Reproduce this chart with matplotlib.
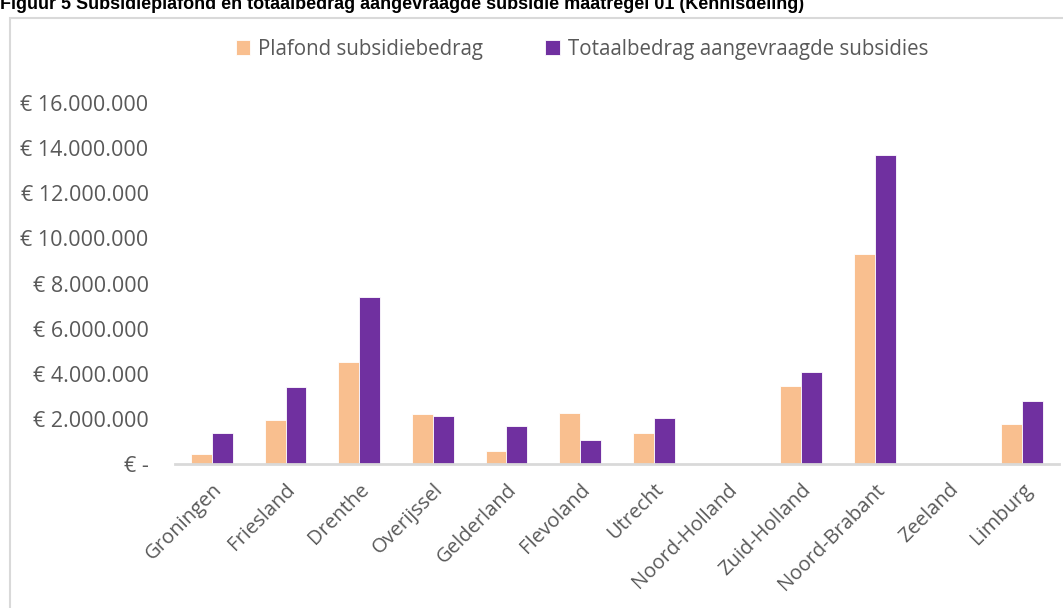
import matplotlib.pyplot as plt
import matplotlib.patches as mpatches
import numpy as np

# data (in euro)
provinces = ["Groningen", "Friesland", "Drenthe", "Overijssel", "Gelderland", "Flevoland",
             "Utrecht", "Noord-Holland", "Zuid-Holland", "Noord-Brabant", "Zeeland", "Limburg"]
plafond = [450000, 1980000, 4520000, 2220000, 570000, 2260000,
           1390000, 0, 3480000, 9320000, 0, 1780000]
totaal = [1380000, 3420000, 7430000, 2160000, 1700000, 1090000,
          2070000, 0, 4100000, 13680000, 0, 2810000]
yticks = [0, 2000000, 4000000, 6000000, 8000000, 10000000, 12000000, 14000000, 16000000]

ORANGE = "#F9BF8F"
PURPLE = "#7030A0"
GREY = "#595959"
FONT = ["Open Sans", "DejaVu Sans"]


def euro(v):
    if v == 0:
        return "€ -"
    return "€ " + f"{int(v):,}".replace(",", ".")


W, H = 1063, 608
fig = plt.figure(figsize=(W / 100, H / 100), dpi=100)

# outer chart frame
fig.patches.append(mpatches.Rectangle((10 / W, -0.05), 1.2, 1 - 18 / H + 0.05,
                                      transform=fig.transFigure, fill=False,
                                      edgecolor="#D9D9D9", linewidth=1.5))

# figure caption, cut off at the top as in the document
fig.text(0, 1 - 9 / H, "Figuur 5 Subsidieplafond en totaalbedrag aangevraagde subsidie maatregel 01 (Kennisdeling)",
         fontsize=13, fontweight="bold", family="Liberation Sans", va="baseline", ha="left")

left, right = 175 / W, 1059 / W
bottom, top = (H - 464.3) / H, (H - 103) / H
ax = fig.add_axes([left, bottom, right - left, top - bottom])

x = np.arange(len(provinces))
bw = 0.285
ax.bar(x - bw / 2, plafond, bw, color=ORANGE, edgecolor="white", linewidth=0.6, label="Plafond subsidiebedrag")
ax.bar(x + bw / 2, totaal, bw, color=PURPLE, edgecolor="white", linewidth=0.6, label="Totaalbedrag aangevraagde subsidies")

ax.set_xlim(-0.5, len(provinces) - 0.5)
ax.set_ylim(0, 16000000)
ax.set_yticks(yticks)
ax.set_yticklabels([euro(v) for v in yticks], family=FONT, fontsize=15.5, color=GREY)
ax.set_xticks(x)
ax.set_xticklabels(provinces, rotation=45, ha="right", rotation_mode="anchor",
                   family=FONT, fontsize=14.5, color=GREY)
ax.tick_params(axis="y", length=0, pad=19)
ax.tick_params(axis="x", length=0, pad=11)

for s in ["top", "right", "left"]:
    ax.spines[s].set_visible(False)
ax.spines["bottom"].set_color("#D9D9D9")
ax.spines["bottom"].set_linewidth(2)

fig.legend(loc="center", bbox_to_anchor=(582 / W, 1 - 49 / H), ncol=2, frameon=False,
           handlelength=0.7, handleheight=0.7, handletextpad=0.4, columnspacing=3.0,
           prop={"family": FONT, "size": 14.8}, labelcolor=GREY)

fig.savefig("out.png", dpi=100)
